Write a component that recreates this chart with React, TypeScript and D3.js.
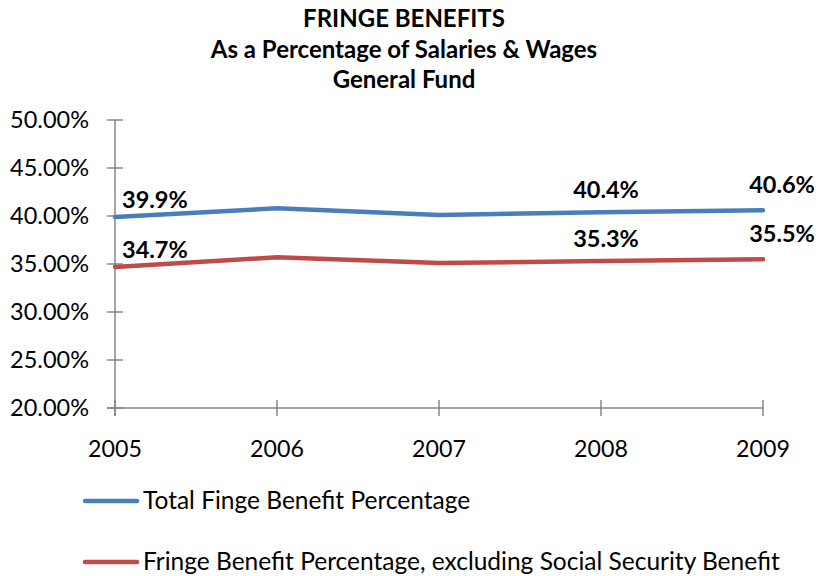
import React from "react";
import * as d3 from "d3";

const years = ["2005", "2006", "2007", "2008", "2009"];
const totalPct = [39.9, 40.8, 40.1, 40.4, 40.6];
const exclSSPct = [34.7, 35.7, 35.1, 35.3, 35.5];
const yTicks = [20, 25, 30, 35, 40, 45, 50];
const titleLines = ["FRINGE BENEFITS", "As a Percentage of Salaries & Wages", "General Fund"];
const seriesNames = ["Total Finge Benefit Percentage", "Fringe Benefit Percentage, excluding Social Security Benefit"];
const labelled = [0, 3, 4];

const W = 818, H = 576;
const FONT = "Lato, 'Open Sans', sans-serif";

export default function App() {
  const x = d3.scalePoint<string>().domain(years).range([115, 763]);
  const y = d3.scaleLinear().domain([20, 50]).range([408, 120]);
  const line = d3.line<number>().x((_, i) => x(years[i])!).y((d) => y(d));
  const colors = ["#4A7EBB", "#BE4B48"];
  const series = [totalPct, exclSSPct];
  const labelOffset = (i: number) =>
    i === 0 ? { dx: 7, dy: -9, anchor: "start" } : i === 3 ? { dx: 5, dy: -14, anchor: "middle" } : { dx: 19, dy: -17, anchor: "middle" };

  return (
    <svg width={W} height={H} style={{ position: "absolute", left: 0, top: 0, background: "#fff" }} fontFamily={FONT}>
      {titleLines.map((t, i) => (
        <text key={t} x={404} y={27 + i * 30.5} textAnchor="middle" fontWeight="bold" fontSize={24} fill="#000">
          {t}
        </text>
      ))}
      {/* y axis */}
      <line x1={x(years[0])} x2={x(years[0])} y1={y(50)} y2={y(20) + 8} stroke="#868686" strokeWidth={1.5} />
      {yTicks.map((t) => (
        <g key={t}>
          <line x1={x(years[0])! - 8} x2={x(years[0])! + 8} y1={y(t)} y2={y(t)} stroke="#868686" strokeWidth={1.5} />
          <text x={89} y={y(t) + 8} textAnchor="end" fontSize={23.5} fill="#000">
            {t.toFixed(2) + "%"}
          </text>
        </g>
      ))}
      {/* x axis */}
      <line x1={x(years[0])! - 8} x2={x(years[4])} y1={y(20)} y2={y(20)} stroke="#868686" strokeWidth={1.5} />
      {years.map((yr) => (
        <g key={yr}>
          <line x1={x(yr)} x2={x(yr)} y1={y(20) - 8} y2={y(20) + 8} stroke="#868686" strokeWidth={1.5} />
          <text x={x(yr)} y={457} textAnchor="middle" fontSize={23.2} fill="#000">
            {yr}
          </text>
        </g>
      ))}
      {series.map((s, si) => (
        <path key={si} d={line(s)!} fill="none" stroke={colors[si]} strokeWidth={4.5} strokeLinecap="round" strokeLinejoin="round" />
      ))}
      {series.map((s, si) =>
        labelled.map((i) => {
          const o = labelOffset(i);
          return (
            <text key={si + "-" + i} x={x(years[i])! + o.dx} y={y(s[i]) + o.dy} textAnchor={o.anchor as any} fontWeight="bold" fontSize={23.5} fill="#000">
              {s[i].toFixed(1) + "%"}
            </text>
          );
        })
      )}
      {seriesNames.map((n, i) => (
        <g key={n}>
          <line x1={85} x2={137} y1={501 + i * 61} y2={501 + i * 61} stroke={colors[i]} strokeWidth={4.5} strokeLinecap="round" />
          <text x={143} y={509 + i * 61} fontSize={24.5} fill="#000">
            {n}
          </text>
        </g>
      ))}
    </svg>
  );
}
